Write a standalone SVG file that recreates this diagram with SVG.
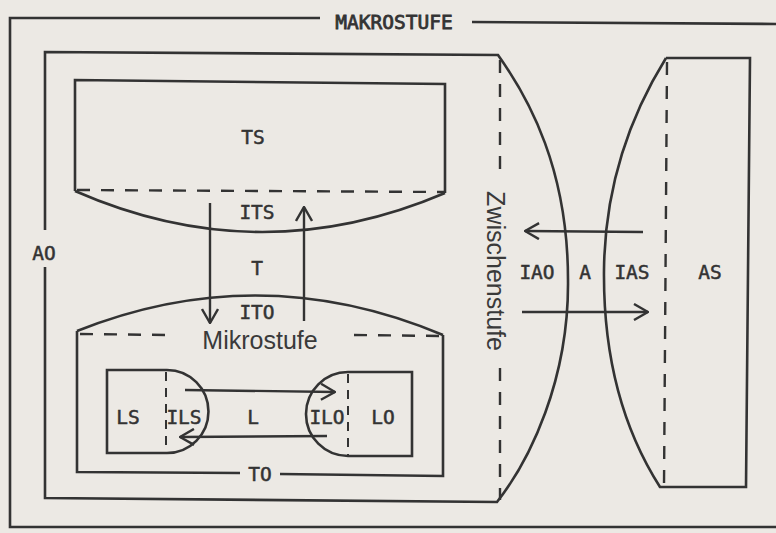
<svg xmlns="http://www.w3.org/2000/svg" width="776" height="533" viewBox="0 0 776 533">
<defs>
<style>
.ln{fill:none;stroke:#333;stroke-width:2.6;stroke-linejoin:miter}
.ds{fill:none;stroke:#333;stroke-width:2.4;stroke-dasharray:13 11}
.lb{font-family:"DejaVu Sans Mono","Liberation Mono",monospace;font-size:19.5px;fill:#333;stroke:#333;stroke-width:0.5;text-anchor:middle}
.big{font-family:"Liberation Sans","DejaVu Sans",sans-serif;font-size:25px;fill:#3a3a3a;text-anchor:middle}
.ar{fill:none;stroke:#333;stroke-width:2.4}
</style>
<marker id="ah" viewBox="0 0 16 18" refX="15" refY="9" markerWidth="16" markerHeight="18" markerUnits="userSpaceOnUse" orient="auto">
<path d="M1,1 L15,9 L1,17" fill="none" stroke="#333" stroke-width="2.4"/>
</marker>
</defs>
<rect width="776" height="533" fill="#ecE9e4"/>

<g id="makrostufe">
<path class="ln" d="M320,18 L10,18 L10,527 L776,527"/>
<path class="ln" d="M472,22 L776,24"/>
<text class="lb" x="394" y="29" style="stroke-width:0.8">MAKROSTUFE</text>
</g>

<g id="AO">
<path class="ln" d="M45,230 L45,52 L498,55 C530,100 568,170 568,280 C569,380 530,460 497,502 L45,498 L45,267"/>
<path class="ds" d="M500,60 L500,180 M500,368 L500,500"/>
<text class="lb" x="44" y="260">AO</text>
<text class="big" transform="translate(487,271) rotate(90)" x="0" y="0">Zwischenstufe</text>
</g>

<g id="TS">
<path class="ln" d="M75,191 L75,80 L445,84 L445,193"/>
<path class="ds" d="M77,190 L445,192"/>
<path class="ln" d="M75,191 Q260,272 445,193"/>
<text class="lb" x="253" y="144">TS</text>
<text class="lb" x="257" y="219">ITS</text>
</g>

<g id="T">
<text class="lb" x="257" y="275">T</text>
</g>

<g id="TO">
<path class="ln" d="M77,331 Q260,258 443,335"/>
<path class="ln" d="M240,473 L77,472 L77,331"/>
<path class="ln" d="M280,474 L443,476 L443,335"/>
<path class="ds" d="M80,334 L168,335 M354,335 L443,336"/>
<text class="lb" x="257" y="319">ITO</text>
<text class="big" x="260" y="349">Mikrostufe</text>
<text class="lb" x="260" y="481">TO</text>
</g>

<g id="LS">
<path class="ln" d="M167,370 L107,370 L107,453 L167,453 A41.5,41.5 0 0 0 167,370"/>
<path class="ds" style="stroke-dasharray:9 7;stroke-width:2" d="M166,372 L166,453"/>
<text class="lb" x="128" y="424">LS</text>
<text class="lb" x="184" y="424">ILS</text>
</g>

<g id="L">
<text class="lb" x="253" y="424">L</text>
</g>

<g id="LO">
<path class="ln" d="M348,372 L412,372 L412,456 L348,456 A42,42 0 0 1 348,372"/>
<path class="ds" style="stroke-dasharray:9 7;stroke-width:2" d="M348,374 L348,456"/>
<text class="lb" x="327" y="424">ILO</text>
<text class="lb" x="383" y="424">LO</text>
</g>

<g id="AS">
<path class="ln" d="M666,58 L750,58 L746,487 L660,487 C630,440 603,370 604,270 C605,170 640,100 666,58"/>
<path class="ds" d="M667,62 L664,486"/>
<text class="lb" x="710" y="279">AS</text>
</g>

<g id="A">
<text class="lb" x="537" y="279">IAO</text>
<text class="lb" x="585" y="279">A</text>
<text class="lb" x="632" y="279">IAS</text>
</g>

<g id="connectors">
<path class="ar" marker-end="url(#ah)" d="M210,203 L210,323"/>
<path class="ar" marker-end="url(#ah)" d="M304,321 L304,207"/>
<path class="ar" marker-end="url(#ah)" d="M185,390 L335,392"/>
<path class="ar" marker-end="url(#ah)" d="M327,436 L180,437"/>
<path class="ar" marker-end="url(#ah)" d="M643,232 L525,231"/>
<path class="ar" marker-end="url(#ah)" d="M522,312 L648,312"/>
</g>
</svg>
